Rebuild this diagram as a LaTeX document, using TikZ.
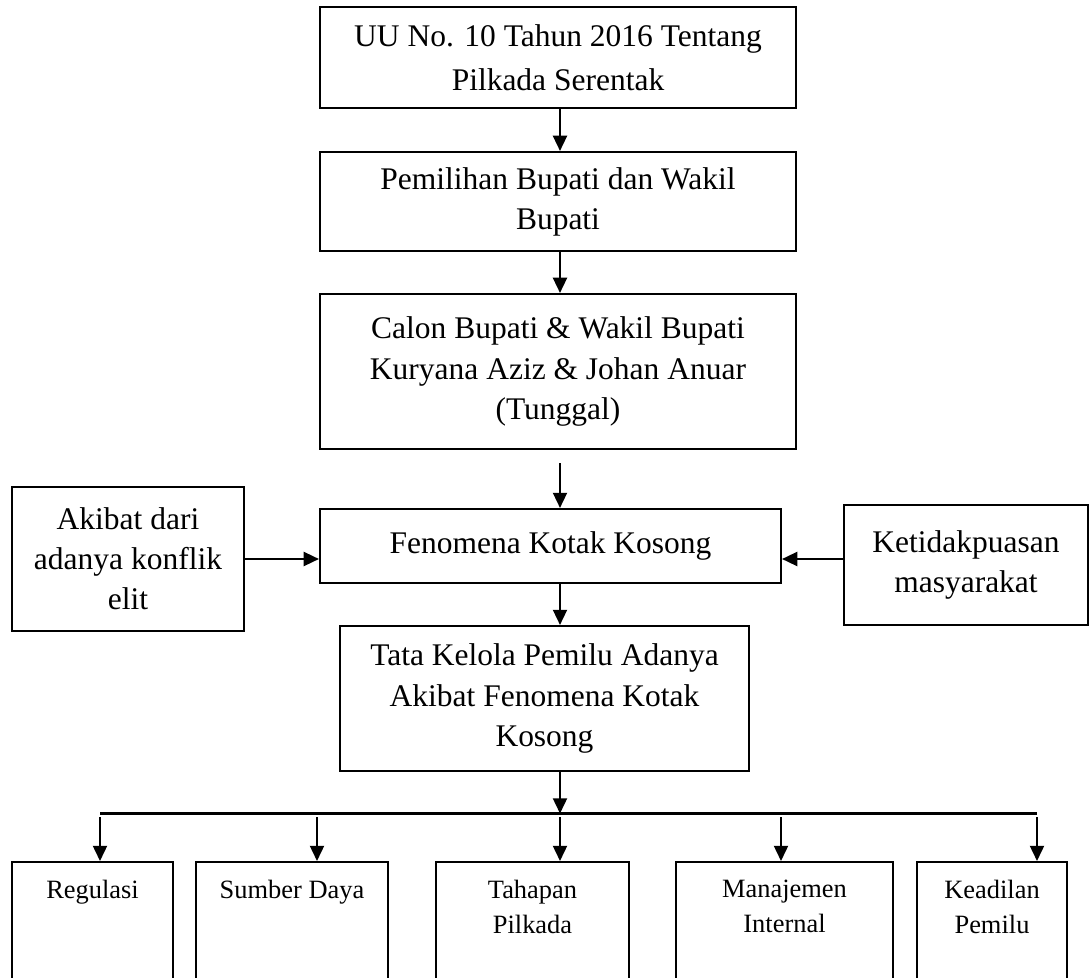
\documentclass[tikz,border=0pt]{standalone}
\usepackage{fontspec}
\setmainfont{Liberation Serif}
\usetikzlibrary{arrows.meta}
\tikzset{ k/.style = { rectangle % main box
        , draw
        , line width = 1.5pt
        , align = center
        , inner sep = 0pt
        , font = \fontsize{22.4}{28.5}\selectfont
        }
        , s/.style = { rectangle % sub box
        , draw
        , line width = 1.5pt
        , anchor = north
        , inner xsep = 0pt
        , inner ysep = 0.45cm
        , font = \fontsize{18.8}{24.9}\selectfont
        }
        }
\newcommand{\isibawah}[1]{\parbox[t][2.6cm][t]{3.7cm}{\centering #1}}

\begin{document}
\begin{tikzpicture}[edge_style/.style={draw=black, line width=1.5pt, -{Triangle[length=0.38cm, width=0.35cm]}},
        line_style/.style={draw=black, line width=1.6pt}]
        \useasboundingbox (0,0) rectangle (27.3,-24.45);
        \clip (0,0) rectangle (27.3,-24.45);

        \node [k, minimum width=11.9cm, minimum height=2.525cm] (uu) at (13.95,-1.4375) {UU No. 10 Tahun 2016 Tentang\\[0.1cm]Pilkada Serentak};
        \node [k, minimum width=11.9cm, minimum height=2.475cm] (pemilihan) at (13.95,-5.0375) {Pemilihan Bupati dan Wakil\\Bupati};
        \node [k, minimum width=11.9cm, minimum height=3.875cm] (calon) at (13.95,-9.2875) {Calon Bupati \& Wakil Bupati\\Kuryana Aziz \& Johan Anuar\\(Tunggal)};
        \node [k, minimum width=11.525cm, minimum height=1.85cm] (fenomena) at (13.7625,-13.65) {Fenomena Kotak Kosong};
        \node [k, minimum width=5.8cm, minimum height=3.6cm] (akibat) at (3.2,-13.975) {Akibat dari\\adanya konflik\\elit};
        \node [k, minimum width=6.1cm, minimum height=3.0cm] (ketidakpuasan) at (24.15,-14.125) {Ketidakpuasan\\masyarakat};
        \node [k, minimum width=10.225cm, minimum height=3.625cm] (tata) at (13.6125,-17.4625) {Tata Kelola Pemilu Adanya\\Akibat Fenomena Kotak\\Kosong};

        \node [s, minimum width=4.025cm] (regulasi) at (2.3125,-21.525) {\isibawah{Regulasi}};
        \node [s, minimum width=4.8cm] (sumber) at (7.3,-21.525) {\isibawah{Sumber Daya}};
        \node [s, minimum width=4.825cm] (tahapan) at (13.3125,-21.525) {\isibawah{Tahapan\\Pilkada}};
        \node [s, minimum width=5.425cm] (manajemen) at (19.6125,-21.525) {\isibawah{Manajemen\\Internal}};
        \node [s, minimum width=3.75cm] (keadilan) at (24.8,-21.525) {\isibawah{Keadilan\\Pemilu}};

        \coordinate (sumbu) at (14.0,0);
        \coordinate (cabang) at (14.0,-20.3375);
        \coordinate (kiri) at (2.5,-20.3375);
        \coordinate (kanan) at (25.925,-20.3375);

        \draw [edge_style] (uu.south -| sumbu) -- (pemilihan.north -| sumbu);
        \draw [edge_style] (pemilihan.south -| sumbu) -- (calon.north -| sumbu);
        \draw [edge_style, shorten <=0.33cm] (calon.south -| sumbu) -- (fenomena.north -| sumbu);
        \draw [edge_style] (akibat.east) -- (akibat.east -| fenomena.west);
        \draw [edge_style] (ketidakpuasan.west |- akibat.east) -- (fenomena.east |- akibat.east);
        \draw [edge_style] (fenomena.south -| sumbu) -- (tata.north -| sumbu);
        \draw [edge_style] (tata.south -| sumbu) -- (cabang);
        \draw [line_style] (kiri) -- (kanan);
        \foreach \x/\target in {2.5/regulasi, 7.925/sumber, 14.0/tahapan, 19.525/manajemen, 25.925/keadilan}
        {
            \coordinate (t-\target) at (\x,-20.3375);
            \draw [edge_style, shorten <=0.09cm] (t-\target) -- (t-\target |- \target.north);
        }
\end{tikzpicture}
\end{document}
